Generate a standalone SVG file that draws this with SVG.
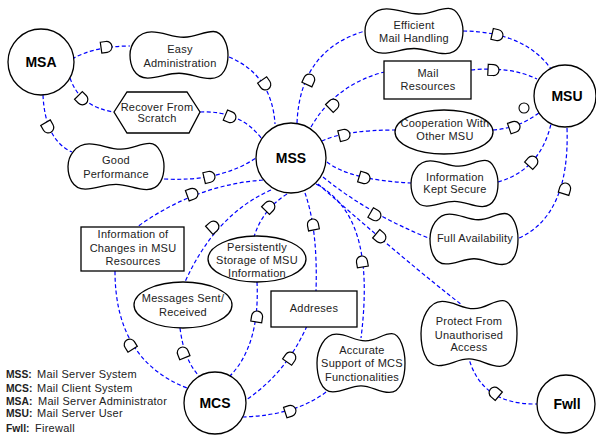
<svg xmlns="http://www.w3.org/2000/svg" xmlns:xlink="http://www.w3.org/1999/xlink" width="596" height="439" viewBox="0 0 596 439">
<style>
.act{fill:#fff;stroke:#000;stroke-width:1.3}
.nd{fill:#fff;stroke:#000;stroke-width:1.3}
.lnk{fill:none;stroke:#0000ff;stroke-width:1.2;stroke-dasharray:4 2.5}
.t{font-family:"Liberation Sans",Arial,sans-serif;font-size:11px;letter-spacing:0.25px;fill:#222;text-anchor:middle}
.at{font-family:"Liberation Sans",Arial,sans-serif;font-size:14px;font-weight:bold;fill:#000;text-anchor:middle}
.lg{font-family:"Liberation Sans",Arial,sans-serif;font-size:11px;letter-spacing:0.25px;fill:#222}
.b{font-weight:bold;letter-spacing:0;font-size:10.3px}
.dm{fill:#fff;stroke:#000;stroke-width:1.2}
</style>
<defs>
<path id="cloud" d="M22,2 C35,2 42,13 55,13 C68,13 74,1 85,1 C95,1 100,30 100,50 C100,72 96,99 82,99 C70,99 62,88 50,88 C38,88 30,98 18,98 C4,98 0,70 0,50 C0,28 8,2 22,2 Z" fill="#fff" stroke="#000" stroke-width="1.3" vector-effect="non-scaling-stroke"/>
<path id="dm" d="M-5,-5.5 H0.5 A5.5,5.5 0 0 1 0.5,5.5 H-5 Z"/>
</defs>

<g id="connectors">
<path class="lnk" d="M72,59 Q95,46 130,46"/>
<path class="lnk" d="M229,57 Q272,75 275,124"/>
<path class="lnk" d="M70,78 Q80,107 114,112"/>
<path class="lnk" d="M200,112 Q240,110 262,139"/>
<path class="lnk" d="M43,95 Q45,140 72,152"/>
<path class="lnk" d="M164,179 Q220,182 256,158"/>
<path class="lnk" d="M297,123 Q300,50 365,31"/>
<path class="lnk" d="M463,31 Q525,32 551,69"/>
<path class="lnk" d="M311,127 Q335,85 384,72"/>
<path class="lnk" d="M471,70 Q510,66 537,79"/>
<path class="lnk" d="M322,141 Q345,130 395,130"/>
<path class="lnk" d="M493,130 Q520,128 540,112"/>
<path class="lnk" d="M327,162 Q350,180 411,183"/>
<path class="lnk" d="M498,182 Q540,170 551,124"/>
<path class="lnk" d="M323,177 Q370,215 431,239"/>
<path class="lnk" d="M567,128 Q570,215 519,238"/>
<path class="lnk" d="M318,184 Q410,265 462,305"/>
<path class="lnk" d="M468,355 Q480,405 537,404"/>
<path class="lnk" d="M316,184 C355,205 372,250 361,338"/>
<path class="lnk" d="M331,388 Q300,415 243,417"/>
<path class="lnk" d="M305,193 Q318,230 316,291"/>
<path class="lnk" d="M307,326 Q285,375 243,402"/>
<path class="lnk" d="M287,194 Q262,210 254,237"/>
<path class="lnk" d="M257,282 Q260,345 230,376"/>
<path class="lnk" d="M271,190 Q215,215 185,282"/>
<path class="lnk" d="M180,328 Q184,360 199,376"/>
<path class="lnk" d="M263,180 Q195,185 137,227"/>
<path class="lnk" d="M115,271 Q115,360 187,388"/>
<circle cx="524" cy="108" r="5" fill="#fff" stroke="#000" stroke-width="1.1"/>
<use xlink:href="#dm" class="dm" transform="translate(106,47) rotate(-8)"/>
<use xlink:href="#dm" class="dm" transform="translate(265,84) rotate(55)"/>
<use xlink:href="#dm" class="dm" transform="translate(82,99) rotate(45)"/>
<use xlink:href="#dm" class="dm" transform="translate(230,117) rotate(23)"/>
<use xlink:href="#dm" class="dm" transform="translate(48,127) rotate(60)"/>
<use xlink:href="#dm" class="dm" transform="translate(209,177) rotate(-13)"/>
<use xlink:href="#dm" class="dm" transform="translate(309,80) rotate(-65)"/>
<use xlink:href="#dm" class="dm" transform="translate(497,35) rotate(13)"/>
<use xlink:href="#dm" class="dm" transform="translate(333,105) rotate(-44)"/>
<use xlink:href="#dm" class="dm" transform="translate(493,70) rotate(3)"/>
<use xlink:href="#dm" class="dm" transform="translate(344,135) rotate(-14)"/>
<use xlink:href="#dm" class="dm" transform="translate(514,127) rotate(-19)"/>
<use xlink:href="#dm" class="dm" transform="translate(364,178) rotate(17)"/>
<use xlink:href="#dm" class="dm" transform="translate(532,162) rotate(-48)"/>
<use xlink:href="#dm" class="dm" transform="translate(375,215) rotate(30)"/>
<use xlink:href="#dm" class="dm" transform="translate(565,189) rotate(-73)"/>
<use xlink:href="#dm" class="dm" transform="translate(380,237) rotate(40)"/>
<use xlink:href="#dm" class="dm" transform="translate(495,393) rotate(-140)"/>
<use xlink:href="#dm" class="dm" transform="translate(362,262) rotate(-100)"/>
<use xlink:href="#dm" class="dm" transform="translate(290,411) rotate(-18)"/>
<use xlink:href="#dm" class="dm" transform="translate(313,225) rotate(-101)"/>
<use xlink:href="#dm" class="dm" transform="translate(290,358) rotate(-55)"/>
<use xlink:href="#dm" class="dm" transform="translate(269,207) rotate(-46)"/>
<use xlink:href="#dm" class="dm" transform="translate(257,317) rotate(-81)"/>
<use xlink:href="#dm" class="dm" transform="translate(213,227) rotate(-42)"/>
<use xlink:href="#dm" class="dm" transform="translate(183,353) rotate(-112)"/>
<use xlink:href="#dm" class="dm" transform="translate(192,194) rotate(-20)"/>
<use xlink:href="#dm" class="dm" transform="translate(130,345) rotate(-122)"/>
</g>

<g id="MSA"><circle class="act" cx="41" cy="62" r="33"/><text class="at" x="41" y="67">MSA</text></g>
<g id="MSS"><circle class="act" cx="291" cy="158" r="35"/><text class="at" x="291" y="163">MSS</text></g>
<g id="MSU"><circle class="act" cx="565" cy="96" r="31"/><text class="at" x="567" y="101">MSU</text></g>
<g id="MCS"><circle class="act" cx="215" cy="403" r="31"/><text class="at" x="215" y="408">MCS</text></g>
<g id="Fwll"><circle class="act" cx="566" cy="404" r="29"/><text class="at" x="567" y="409">Fwll</text></g>

<g id="easy-administration"><use xlink:href="#cloud" transform="translate(130,31) scale(0.98,0.48)"/><text class="t" x="180" y="53">Easy</text><text class="t" x="180" y="67">Administration</text></g>
<g id="recover-from-scratch"><polygon class="nd" points="114,112 127,92 187,92 200,112 189,133 127,133"/><text class="t" x="157" y="111">Recover From</text><text class="t" x="157" y="122">Scratch</text></g>
<g id="good-performance"><use xlink:href="#cloud" transform="translate(68,143) scale(0.96,0.47)"/><text class="t" x="116" y="164">Good</text><text class="t" x="116" y="178">Performance</text></g>
<g id="efficient-mail-handling"><use xlink:href="#cloud" transform="translate(365,8) scale(0.98,0.46)"/><text class="t" x="414" y="29">Efficient</text><text class="t" x="414" y="42">Mail Handling</text></g>
<g id="mail-resources"><rect class="nd" x="384" y="61" width="87" height="38"/><text class="t" x="428" y="77">Mail</text><text class="t" x="428" y="90">Resources</text></g>
<g id="cooperation"><ellipse class="nd" cx="444" cy="132" rx="49" ry="22"/><text class="t" x="445" y="127">Cooperation With</text><text class="t" x="445" y="140">Other MSU</text></g>
<g id="information-kept-secure"><use xlink:href="#cloud" transform="translate(411,160) scale(0.87,0.47)"/><text class="t" x="455" y="181">Information</text><text class="t" x="455" y="193">Kept Secure</text></g>
<g id="full-availability"><use xlink:href="#cloud" transform="translate(430,213) scale(0.88,0.52)"/><text class="t" x="475" y="242">Full Availability</text></g>
<g id="protect"><use xlink:href="#cloud" transform="translate(421,300) scale(0.96,0.67)"/><text class="t" x="469" y="325">Protect From</text><text class="t" x="469" y="339">Unauthorised</text><text class="t" x="469" y="351">Access</text></g>
<g id="accurate-support"><use xlink:href="#cloud" transform="translate(317,333) scale(0.88,0.60)"/><text class="t" x="362" y="354">Accurate</text><text class="t" x="362" y="367">Support of MCS</text><text class="t" x="362" y="381">Functionalities</text></g>
<g id="addreses"><rect class="nd" x="271" y="291" width="86" height="36"/><text class="t" x="314" y="312">Addreses</text></g>
<g id="persistently-storage"><ellipse class="nd" cx="257" cy="259" rx="49" ry="23"/><text class="t" x="257" y="251">Persistently</text><text class="t" x="257" y="264">Storage of MSU</text><text class="t" x="257" y="277">Information</text></g>
<g id="messages"><ellipse class="nd" cx="183" cy="305" rx="49" ry="23"/><text class="t" x="183" y="302">Messages Sent/</text><text class="t" x="183" y="316">Received</text></g>
<g id="information-of-changes"><rect class="nd" x="81" y="227" width="103" height="44"/><text class="t" x="133" y="238">Information of</text><text class="t" x="133" y="252">Changes in MSU</text><text class="t" x="133" y="265">Resources</text></g>

<g id="legend">
<text class="lg" x="6" y="378"><tspan class="b">MSS:</tspan></text><text class="lg" x="37" y="378">Mail Server System</text>
<text class="lg" x="6" y="392"><tspan class="b">MCS:</tspan></text><text class="lg" x="37" y="392">Mail Client System</text>
<text class="lg" x="6" y="405"><tspan class="b">MSA:</tspan></text><text class="lg" x="38" y="405">Mail Server Administrator</text>
<text class="lg" x="6" y="417"><tspan class="b">MSU:</tspan></text><text class="lg" x="37" y="417">Mail Server User</text>
<text class="lg" x="6" y="432"><tspan class="b">Fwll:</tspan></text><text class="lg" x="35" y="432">Firewall</text>
</g>
</svg>
